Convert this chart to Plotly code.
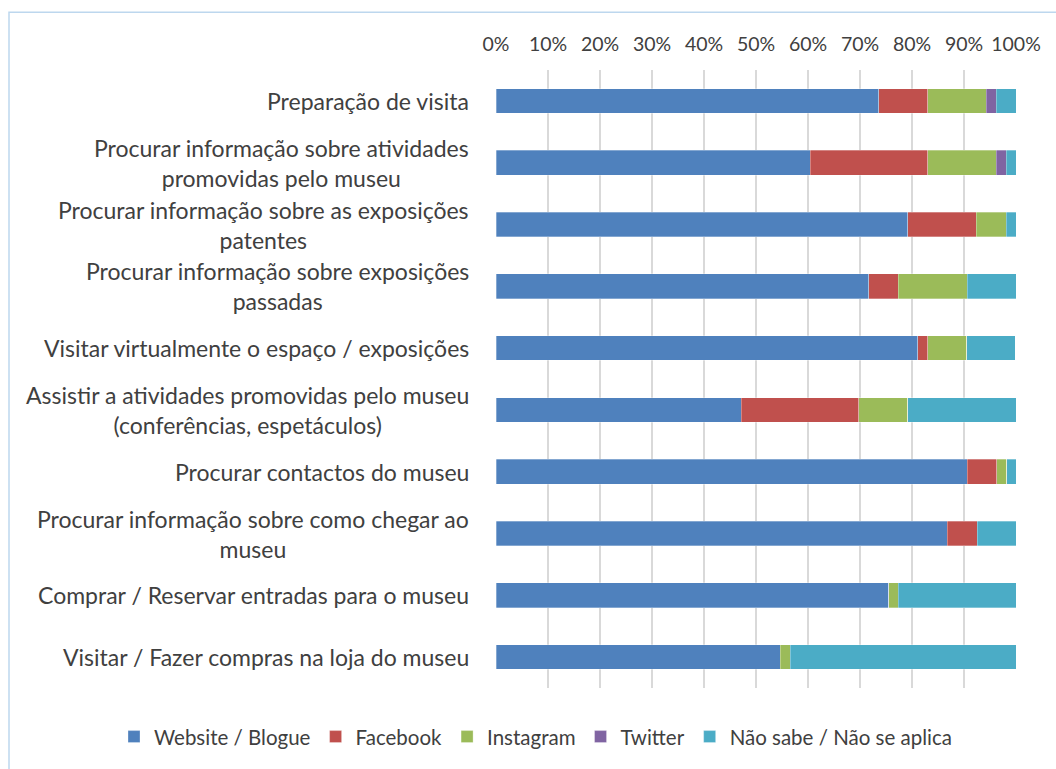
import plotly.graph_objects as go

categories = [
    "Preparação de visita",
    "Procurar informação sobre atividades<br>promovidas pelo museu",
    "Procurar informação sobre as exposições<br>patentes",
    "Procurar informação sobre exposições<br>passadas",
    "Visitar virtualmente o espaço / exposições",
    "Assistir a atividades promovidas pelo museu<br>(conferências, espetáculos)",
    "Procurar contactos do museu",
    "Procurar informação sobre como chegar ao<br>museu",
    "Comprar / Reservar entradas para o museu",
    "Visitar / Fazer compras na loja do museu",
]

series_names = ["Website / Blogue", "Facebook", "Instagram", "Twitter", "Não sabe / Não se aplica"]
website = [73.6, 60.4, 79.2, 71.7, 81.1, 47.2, 90.6, 86.8, 75.5, 54.7]
facebook = [9.4, 22.6, 13.2, 5.7, 1.9, 22.6, 5.7, 5.7, 0.0, 0.0]
instagram = [11.3, 13.2, 5.7, 13.2, 7.5, 9.4, 1.9, 0.0, 1.9, 1.9]
twitter = [1.9, 1.9, 0.0, 0.0, 0.0, 0.0, 0.0, 0.0, 0.0, 0.0]
nao_sabe = [3.8, 1.9, 1.9, 9.4, 9.4, 20.8, 1.9, 7.5, 22.6, 43.4]
colors = ["#4F81BD", "#C0504D", "#9BBB59", "#8064A2", "#4BACC6"]
x_ticks = [0, 10, 20, 30, 40, 50, 60, 70, 80, 90, 100]

keys = [c.replace("<br>", " ") for c in categories]

fig = go.Figure()
for name, vals, col in zip(series_names, [website, facebook, instagram, twitter, nao_sabe], colors):
    fig.add_trace(go.Bar(
        y=keys, x=vals, name=name, orientation="h",
        marker=dict(color=col, line=dict(color="rgba(255,255,255,0.6)", width=0.5)),
    ))

FONT = "Lato, Carlito, Calibri, sans-serif"
TXT = "#404040"
annotations = [
    dict(xref="paper", yref="y", x=0, y=key, xshift=-25,
         xanchor="right", yanchor="middle", align="center",
         text=lab, showarrow=False,
         font=dict(family=FONT, size=23, color=TXT))
    for key, lab in zip(keys, categories)
]

fig.update_layout(
    barmode="stack",
    bargap=0.6,
    width=1056, height=769,
    margin=dict(l=496, r=40, t=70, b=78),
    paper_bgcolor="white", plot_bgcolor="white",
    font=dict(family=FONT, size=20, color=TXT),
    xaxis=dict(side="top", range=[0, 100], tickvals=x_ticks,
               ticktext=[f"{v}%" for v in x_ticks],
               showgrid=True, gridcolor="#D9D9D9", gridwidth=1.5,
               zeroline=False, showline=False, ticks="",
               ticklabelstandoff=14, tickfont=dict(size=19.5, color=TXT, family=FONT)),
    yaxis=dict(categoryorder="array", categoryarray=keys, autorange="reversed",
               showticklabels=False, showgrid=False, zeroline=False, showline=False, ticks=""),
    legend=dict(orientation="h", xref="paper", yref="paper",
                x=(114 - 496) / 520, xanchor="left", y=(691 - 740) / 621, yanchor="middle",
                font=dict(size=20.5, color=TXT, family=FONT),
                itemwidth=30, traceorder="normal"),
    annotations=annotations,
    shapes=[dict(type="rect", xref="paper", yref="paper",
                 x0=(9 - 496) / 520, x1=(1070 - 496) / 520,
                 y0=(769 - 780 - 78) / 621, y1=(769 - 12 - 78) / 621,
                 line=dict(color="#BDD7EE", width=1.5), fillcolor="rgba(0,0,0,0)", layer="below")],
)

fig.write_html("out.html", config={"displayModeBar": False},
               post_script="document.body.style.margin='0';document.body.style.overflow='hidden';")
